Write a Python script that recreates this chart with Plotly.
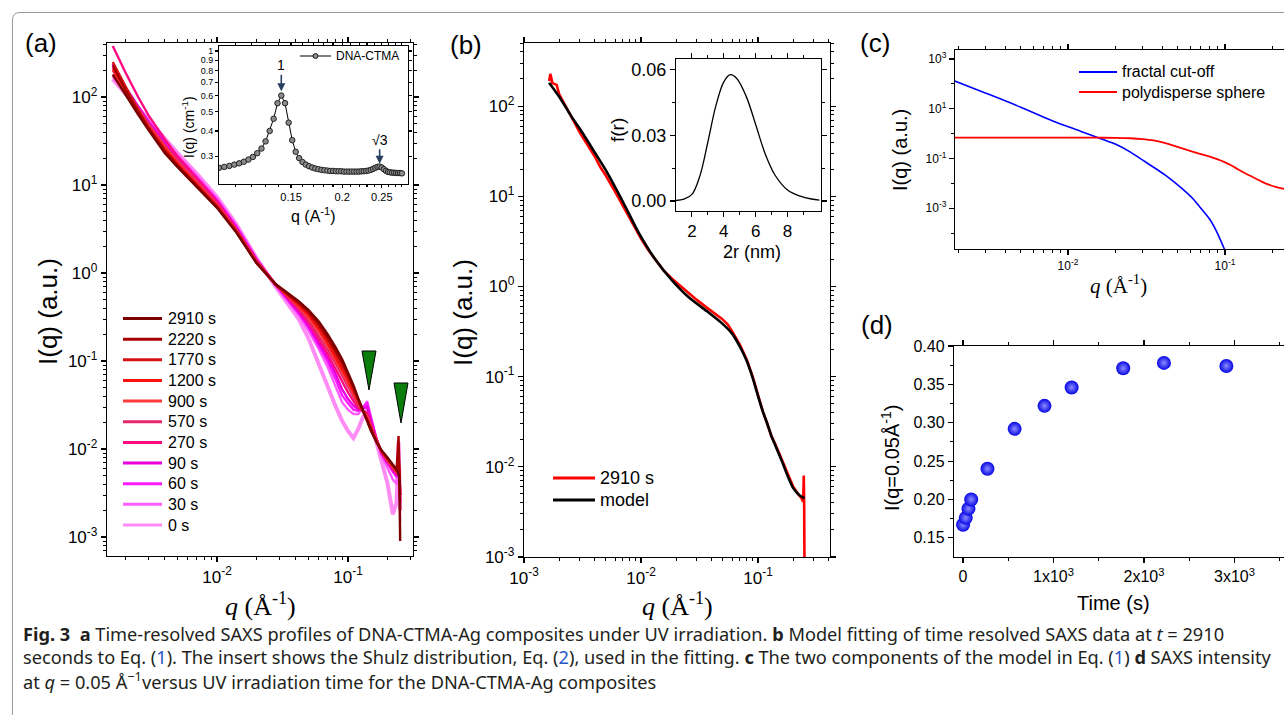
import numpy as np
import plotly.graph_objects as go

W, H = 1284, 715

# ---------------- data ----------------
# panel (a): time-resolved SAXS profiles
a_q = [0.0016, 0.002, 0.0025, 0.003, 0.004, 0.005, 0.007, 0.01, 0.014, 0.02,
       0.028, 0.035, 0.042, 0.05, 0.06, 0.07, 0.08, 0.09, 0.1, 0.11,
       0.12, 0.13, 0.14, 0.15, 0.165, 0.18, 0.2, 0.22, 0.235, 0.243,
       0.247, 0.25]
a_labels = ["2910 s", "2220 s", "1770 s", "1200 s", "900 s", "570 s",
            "270 s", "90 s", "60 s", "30 s", "0 s"]
i_2910 = [180, 105, 63, 42, 23, 16, 9.5, 5.5, 2.9, 1.3,
          0.75, 0.58, 0.48, 0.38, 0.28, 0.2, 0.145, 0.105, 0.075, 0.053,
          0.037, 0.027, 0.02, 0.016, 0.012, 0.0097, 0.008, 0.0067, 0.0058, 0.0052,
          0.0045, 0.0009]
i_2220 = [230, 120, 68, 44, 24, 16.5, 9.8, 5.6, 2.95, 1.3,
          0.74, 0.57, 0.46, 0.36, 0.26, 0.185, 0.133, 0.097, 0.07, 0.05,
          0.036, 0.027, 0.021, 0.016, 0.012, 0.0096, 0.0078, 0.0066, 0.0058, 0.014,
          0.006, 0.003]
i_1770 = [250, 130, 70, 45, 25, 17, 10, 5.7, 3.0, 1.32,
          0.74, 0.56, 0.45, 0.35, 0.245, 0.172, 0.123, 0.09, 0.066, 0.048,
          0.035, 0.027, 0.021, 0.016, 0.012, 0.0095, 0.0077, 0.0065, 0.0057, 0.009,
          0.005, 0.002]
i_1200 = [210, 125, 72, 46, 26, 17.5, 10.2, 5.8, 3.0, 1.33,
          0.74, 0.55, 0.43, 0.33, 0.23, 0.16, 0.113, 0.083, 0.061, 0.045,
          0.034, 0.027, 0.022, 0.017, 0.012, 0.0095, 0.0076, 0.0064, 0.0056, 0.007,
          0.0045, 0.0025]
i_900 = [180, 115, 70, 47, 27, 18, 10.5, 5.9, 3.05, 1.34,
         0.74, 0.54, 0.42, 0.31, 0.215, 0.15, 0.105, 0.076, 0.056, 0.042,
         0.033, 0.027, 0.023, 0.017, 0.0125, 0.0094, 0.0075, 0.0063, 0.0055, 0.0065,
         0.005, 0.003]
i_570 = [200, 125, 75, 50, 28, 19, 11, 6.1, 3.1, 1.36,
         0.74, 0.53, 0.4, 0.29, 0.195, 0.135, 0.095, 0.068, 0.051, 0.039,
         0.031, 0.027, 0.024, 0.018, 0.0125, 0.0093, 0.0074, 0.0062, 0.0054, 0.006,
         0.0048, 0.0035]
i_270 = [380, 190, 100, 62, 33, 21, 12, 6.5, 3.2, 1.4,
         0.75, 0.52, 0.38, 0.27, 0.175, 0.12, 0.082, 0.058, 0.044, 0.035,
         0.029, 0.027, 0.026, 0.019, 0.013, 0.0092, 0.0072, 0.006, 0.0052, 0.008,
         0.005, 0.003]
i_90 = [240, 130, 78, 52, 30, 20, 11.8, 6.6, 3.3, 1.42,
        0.74, 0.5, 0.36, 0.25, 0.16, 0.108, 0.072, 0.048, 0.037, 0.031,
        0.028, 0.029, 0.03, 0.021, 0.013, 0.009, 0.007, 0.0058, 0.005, 0.007,
        0.0045, 0.003]
i_60 = [220, 125, 78, 53, 31, 21, 12.2, 6.8, 3.4, 1.44,
        0.73, 0.49, 0.35, 0.24, 0.15, 0.098, 0.063, 0.041, 0.033, 0.028,
        0.027, 0.03, 0.033, 0.022, 0.013, 0.0088, 0.0068, 0.0055, 0.0048, 0.0065,
        0.004, 0.0025]
i_30 = [170, 115, 76, 53, 32, 22, 12.8, 7.0, 3.5, 1.46,
        0.72, 0.47, 0.33, 0.22, 0.135, 0.085, 0.053, 0.034, 0.028, 0.025,
        0.025, 0.03, 0.035, 0.023, 0.013, 0.0085, 0.006, 0.0045, 0.004, 0.008,
        0.003, 0.0015]
i_0 = [160, 110, 75, 54, 33, 23, 13.5, 7.3, 3.6, 1.48,
       0.7, 0.44, 0.3, 0.18, 0.09, 0.05, 0.031, 0.021, 0.016, 0.0133,
       0.017, 0.023, 0.028, 0.02, 0.0115, 0.007, 0.0041, 0.0018, 0.0025, 0.012,
       0.003, 0.002]
a_series = [i_2910, i_2220, i_1770, i_1200, i_900, i_570, i_270, i_90, i_60, i_30, i_0]

# inset of (a): DNA-CTMA
ins_q = [0.100, 0.103, 0.106, 0.109, 0.112, 0.115, 0.118, 0.121, 0.124, 0.127,
         0.130, 0.133, 0.136, 0.139, 0.142, 0.145, 0.148, 0.151, 0.154, 0.157,
         0.160, 0.163, 0.166, 0.169, 0.172, 0.175, 0.178, 0.181, 0.184, 0.187,
         0.190, 0.193, 0.196, 0.199, 0.202, 0.205, 0.208, 0.211, 0.214, 0.217,
         0.220, 0.223, 0.226, 0.229, 0.232, 0.235, 0.238, 0.241, 0.244, 0.247,
         0.250, 0.253, 0.256, 0.259, 0.262, 0.265, 0.268, 0.271, 0.274, 0.277,
         0.280]
ins_i = [0.262, 0.265, 0.268, 0.272, 0.276, 0.281, 0.288, 0.297, 0.310, 0.327,
         0.355, 0.400, 0.460, 0.550, 0.600, 0.550, 0.440, 0.360, 0.315, 0.293,
         0.280, 0.272, 0.267, 0.263, 0.260, 0.258, 0.256, 0.255, 0.254, 0.253,
         0.253, 0.252, 0.252, 0.252, 0.251, 0.251, 0.251, 0.251, 0.251, 0.251,
         0.251, 0.252, 0.252, 0.253, 0.254, 0.256, 0.259, 0.262, 0.265, 0.266,
         0.263, 0.258, 0.253, 0.250, 0.249, 0.248, 0.248, 0.247, 0.247, 0.247,
         0.246]

# panel (b): data at 2910 s and model
b_q_data = [0.00164, 0.00168, 0.00175, 0.0019, 0.002, 0.0023, 0.0026, 0.003, 0.0035, 0.004,
            0.0045, 0.005, 0.006, 0.007, 0.0085, 0.01, 0.0115, 0.0134, 0.0155, 0.0184,
            0.022, 0.0257, 0.03, 0.036, 0.042, 0.049, 0.055, 0.06, 0.07, 0.08,
            0.09, 0.1, 0.11, 0.12, 0.13, 0.14, 0.16, 0.18, 0.2, 0.22,
            0.235, 0.243, 0.246, 0.248, 0.25]
b_i_data = [190, 228, 180, 172, 135, 98, 72, 51, 37, 28,
            21.0, 17.0, 11.3, 7.8, 5.0, 3.4, 2.55, 1.95, 1.52, 1.22,
            1.0, 0.83, 0.71, 0.59, 0.51, 0.44, 0.38, 0.32, 0.225, 0.155,
            0.1, 0.062, 0.041, 0.03, 0.022, 0.018, 0.012, 0.008, 0.006, 0.005,
            0.0045, 0.0041, 0.008, 0.0035, 0.0004]
b_q_model = [0.00164, 0.002, 0.00257, 0.003, 0.004, 0.005, 0.007, 0.0096, 0.0134, 0.0184,
             0.0257, 0.036, 0.0492, 0.06, 0.07, 0.08, 0.09, 0.1, 0.11, 0.12,
             0.13, 0.14, 0.16, 0.18, 0.2, 0.22, 0.24, 0.25]
b_i_model = [182, 127, 75, 56, 31, 19.5, 8.7, 3.9, 1.95, 1.17,
             0.755, 0.54, 0.39, 0.3, 0.215, 0.15, 0.097, 0.061, 0.041, 0.03,
             0.022, 0.0175, 0.0115, 0.0078, 0.0058, 0.0050, 0.0046, 0.0045]

# inset of (b): Schulz distribution
schulz_2r = [1.0, 1.5, 2.0, 2.5, 3.0, 3.5, 4.0, 4.4, 4.8, 5.4, 6.0, 6.6, 7.2, 8.0, 8.8, 9.5, 10.0]
schulz_f = [0.0002, 0.0008, 0.0030, 0.0115, 0.027, 0.0435, 0.0545, 0.0578, 0.0562, 0.048,
            0.035, 0.0215, 0.012, 0.005, 0.0022, 0.0009, 0.0004]

# panel (c): model components
c_q_fractal = [0.0019, 0.003, 0.005, 0.008, 0.012, 0.0167, 0.02, 0.025, 0.0288, 0.035,
               0.0427, 0.054, 0.0625, 0.0693, 0.08, 0.0888, 0.098, 0.105]
c_i_fractal = [130, 42, 11.5, 3.2, 1.25, 0.58, 0.38, 0.18, 0.1, 0.045,
               0.019, 0.0057, 0.0024, 0.0011, 3.6e-4, 1.1e-4, 2.7e-5, 1e-5]
c_q_sphere = [0.0019, 0.005, 0.01, 0.015, 0.02, 0.025, 0.03, 0.035, 0.04, 0.047,
              0.054, 0.062, 0.07, 0.08, 0.09, 0.1, 0.11, 0.12, 0.135, 0.15,
              0.17, 0.19, 0.21, 0.23, 0.25]
c_i_sphere = [0.69, 0.69, 0.69, 0.685, 0.675, 0.65, 0.6, 0.53, 0.44, 0.33,
              0.25, 0.19, 0.15, 0.118, 0.092, 0.07, 0.052, 0.038, 0.025, 0.018,
              0.012, 0.0088, 0.0072, 0.0063, 0.0057]

# panel (d): intensity at q = 0.05 vs time
d_time = [0, 30, 60, 90, 270, 570, 900, 1200, 1770, 2220, 2910]
d_int = [0.167, 0.176, 0.188, 0.200, 0.240, 0.292, 0.322, 0.346, 0.371, 0.378, 0.374]

# ---------------- style ----------------
a_colors = ["#7a0000", "#a80000", "#d41414", "#ff1010", "#ff3c3c", "#e8286e",
            "#ff0a80", "#e800e0", "#ff1aff", "#ff5cff", "#ff8cf4"]
SANS = "Arial, Liberation Sans, sans-serif"
SERIF = "Times New Roman, Liberation Serif, serif"


def px(x):
    return x / W


def py(y):
    return 1 - y / H


def sup(e):
    return "10<sup>%d</sup>" % e


def minor_log(lo, hi):
    return [m * 10.0 ** e for e in range(lo, hi) for m in range(2, 10)]


AX = dict(showline=True, linecolor="black", linewidth=1.2, mirror="ticks",
          ticks="outside", tickcolor="black", tickwidth=1.1, ticklen=5,
          showgrid=False, zeroline=False, automargin=False)

fig = go.Figure()

# (a) curves, draw early times first so the dark curves are on top
for lab, ser, col in reversed(list(zip(a_labels, a_series, a_colors))):
    fig.add_trace(go.Scatter(x=a_q, y=ser, mode="lines", name=lab,
                             line=dict(color=col, width=4.0 if lab == "0 s" else 2.4),
                             xaxis="x", yaxis="y", showlegend=False))

# (a) inset
fig.add_trace(go.Scatter(x=ins_q, y=ins_i, mode="lines+markers", name="DNA-CTMA",
                         line=dict(color="black", width=1),
                         marker=dict(symbol="circle", size=5.5, color="#8a8a8a",
                                     line=dict(color="#222", width=1)),
                         xaxis="x2", yaxis="y2", showlegend=False))

# (b)
fig.add_trace(go.Scatter(x=b_q_data, y=b_i_data, mode="lines", name="2910 s",
                         line=dict(color="#ff0000", width=2.6),
                         xaxis="x3", yaxis="y3", showlegend=False))
fig.add_trace(go.Scatter(x=b_q_model, y=b_i_model, mode="lines", name="model",
                         line=dict(color="black", width=2.6, shape="spline", smoothing=0.6),
                         xaxis="x3", yaxis="y3", showlegend=False))
fig.add_trace(go.Scatter(x=schulz_2r, y=schulz_f, mode="lines", name="f(r)",
                         line=dict(color="black", width=1.3, shape="spline", smoothing=1.0),
                         xaxis="x4", yaxis="y4", showlegend=False))

# (c)
fig.add_trace(go.Scatter(x=c_q_fractal, y=c_i_fractal, mode="lines", name="fractal cut-off",
                         line=dict(color="#0000ff", width=1.6, shape="spline", smoothing=0.8),
                         xaxis="x5", yaxis="y5", showlegend=False))
fig.add_trace(go.Scatter(x=c_q_sphere, y=c_i_sphere, mode="lines", name="polydisperse sphere",
                         line=dict(color="#ff0000", width=1.8, shape="spline", smoothing=0.5),
                         xaxis="x5", yaxis="y5", showlegend=False))

# (d)
fig.add_trace(go.Scatter(x=d_time, y=d_int, mode="markers", name="I(q=0.05)",
                         marker=dict(size=14, color="#0606e6",
                                     gradient=dict(type="radial", color="#8c8cff"),
                                     line=dict(width=0)),
                         xaxis="x6", yaxis="y6", showlegend=False))

tf_big = dict(family=SANS, size=17, color="black")

layout = dict(
    width=W, height=H, margin=dict(l=0, r=0, t=0, b=0, autoexpand=False),
    paper_bgcolor="white", plot_bgcolor="rgba(0,0,0,0)", showlegend=False,
    # (a)
    xaxis=dict(AX, type="log", domain=[px(107), px(413)], range=[-2.840, -0.504], anchor="y",
               tickvals=[0.01, 0.1], ticktext=[sup(-2), sup(-1)], tickfont=tf_big,
               minor=dict(tickvals=minor_log(-3, 0), ticks="outside", ticklen=3,
                          tickcolor="black", tickwidth=1)),
    yaxis=dict(AX, type="log", domain=[py(556), py(43)], range=[-3.216, 2.614], anchor="x",
               tickvals=[1e-3, 1e-2, 1e-1, 1, 10, 100],
               ticktext=[sup(e) for e in range(-3, 3)], tickfont=tf_big,
               minor=dict(tickvals=minor_log(-4, 3), ticks="outside", ticklen=3,
                          tickcolor="black", tickwidth=1)),
    # (a) inset
    xaxis2=dict(AX, type="log", domain=[px(219), px(408)], range=[-1.0, -0.538], anchor="y2",
                linewidth=1, ticklen=3,
                tickvals=[0.15, 0.2, 0.25], ticktext=["0.15", "0.2", "0.25"],
                tickfont=dict(family=SANS, size=11, color="black"),
                minor=dict(tickvals=[0.11, 0.12, 0.13, 0.14, 0.16, 0.17, 0.18, 0.19,
                                     0.21, 0.22, 0.23, 0.24, 0.26, 0.27, 0.28],
                           ticks="outside", ticklen=2, tickcolor="black")),
    yaxis2=dict(AX, type="log", domain=[py(184), py(46)], range=[-0.662, 0.025], anchor="x2",
                linewidth=1, ticklen=3,
                tickvals=[0.3, 0.4, 0.5, 0.6, 0.7, 0.8, 0.9, 1.0],
                ticktext=["0.3", "0.4", "0.5", "0.6", "0.7", "0.8", "0.9", "1"],
                tickfont=dict(family=SANS, size=9, color="black")),
    # (b)
    xaxis3=dict(AX, type="log", domain=[px(524), px(830)], range=[-3.0, -0.385], anchor="y3",
                tickvals=[1e-3, 1e-2, 1e-1], ticktext=[sup(-3), sup(-2), sup(-1)], tickfont=tf_big,
                minor=dict(tickvals=minor_log(-3, 0), ticks="outside", ticklen=3,
                           tickcolor="black", tickwidth=1)),
    yaxis3=dict(AX, type="log", domain=[py(557), py(43)], range=[-3.0, 2.7], anchor="x3",
                tickvals=[1e-3, 1e-2, 1e-1, 1, 10, 100],
                ticktext=[sup(e) for e in range(-3, 3)], tickfont=tf_big,
                minor=dict(tickvals=minor_log(-3, 3), ticks="outside", ticklen=3,
                           tickcolor="black", tickwidth=1)),
    # (b) inset
    xaxis4=dict(AX, domain=[px(676), px(821)], range=[1.0, 10.1], anchor="y4",
                linewidth=1, tickvals=[2, 4, 6, 8], ticktext=["2", "4", "6", "8"],
                tickfont=dict(family=SANS, size=17, color="black"),
                minor=dict(tickvals=[3, 5, 7, 9], ticks="outside", ticklen=3, tickcolor="black")),
    yaxis4=dict(AX, domain=[py(211), py(59)], range=[-0.0046, 0.065], anchor="x4",
                linewidth=1, tickvals=[0.0, 0.03, 0.06], ticktext=["0.00", "0.03", "0.06"],
                tickfont=dict(family=SANS, size=18, color="black"),
                minor=dict(tickvals=[0.015, 0.045], ticks="outside", ticklen=3, tickcolor="black")),
    # (c)
    xaxis5=dict(AX, type="log", domain=[px(955), 1.0], range=[-2.72, -0.624], anchor="y5",
                tickvals=[0.01, 0.1], ticktext=[sup(-2), sup(-1)],
                tickfont=dict(family=SANS, size=12, color="black"),
                minor=dict(tickvals=minor_log(-3, 0), ticks="outside", ticklen=3, tickcolor="black")),
    yaxis5=dict(AX, type="log", domain=[py(249), py(50)], range=[-4.64, 3.36], anchor="x5",
                mirror=False,
                tickvals=[1e-3, 1e-1, 10, 1000], ticktext=[sup(-3), sup(-1), sup(1), sup(3)],
                tickfont=dict(family=SANS, size=12, color="black"),
                minor=dict(tickvals=[1e-4, 1e-2, 1, 100], ticks="outside", ticklen=3,
                           tickcolor="black")),
    # (d)
    xaxis6=dict(AX, domain=[px(954), 1.0], range=[-100, 3547], anchor="y6",
                tickvals=[0, 1000, 2000, 3000],
                ticktext=["0", "1x10<sup>3</sup>", "2x10<sup>3</sup>", "3x10<sup>3</sup>"],
                tickfont=dict(family=SANS, size=16, color="black"),
                minor=dict(tickvals=[500, 1500, 2500, 3500], ticks="outside", ticklen=3,
                           tickcolor="black")),
    yaxis6=dict(AX, domain=[py(557), py(346)], range=[0.125, 0.40], anchor="x6", mirror=False,
                tickvals=[0.15, 0.2, 0.25, 0.3, 0.35, 0.4],
                ticktext=["0.15", "0.20", "0.25", "0.30", "0.35", "0.40"],
                tickfont=dict(family=SANS, size=16, color="black"),
                minor=dict(tickvals=[0.175, 0.225, 0.275, 0.325, 0.375], ticks="outside",
                           ticklen=3, tickcolor="black")),
)
fig.update_layout(**layout)

ann = []
shapes = []


def text(x, y, s, size, family=SANS, angle=0, xanchor="center", color="black"):
    ann.append(dict(x=px(x), y=py(y), xref="paper", yref="paper", text=s, showarrow=False,
                    textangle=angle, xanchor=xanchor, yanchor="middle", borderpad=0,
                    font=dict(family=family, size=size, color=color)))


def seg(x0, y0, x1, y1, color, width):
    shapes.append(dict(type="line", xref="paper", yref="paper", x0=px(x0), y0=py(y0),
                       x1=px(x1), y1=py(y1), line=dict(color=color, width=width)))


# panel labels
text(41, 43, "(a)", 26)
text(466, 45, "(b)", 26)
text(875, 43, "(c)", 26)
text(877, 325, "(d)", 26)

# axis titles
text(48, 311, "I(q) (a.u.)", 26, angle=-90)
text(260, 604, "<i>q</i> (Å<sup>-1</sup>)", 26, family=SERIF)
text(463, 313, "I(q) (a.u.)", 26, angle=-90)
text(677, 604, "<i>q</i> (Å<sup>-1</sup>)", 26, family=SERIF)
text(900, 150, "I(q) (a.u.)", 20, angle=-90)
text(1118, 285, "<i>q</i> (Å<sup>-1</sup>)", 21, family=SERIF)
text(890, 458, "I(q=0.05Å<sup>-1</sup>)", 20, angle=-90)
text(1113, 603, "Time (s)", 20)

# inset titles
text(188, 127, "I(q) (cm<sup>-1</sup>)", 14, angle=-90)
text(313, 215, "q (A<sup>-1</sup>)", 16)
text(617, 130, "f(r)", 19, angle=-90)
text(752, 252, "2r (nm)", 18)

# legend (a)
for k, (lab, col) in enumerate(zip(a_labels, a_colors)):
    yy = 318.5 + 20.65 * k
    seg(123, yy, 162, yy, col, 3)
    text(167, yy, lab, 16, xanchor="left")

# legend (b)
seg(553, 478, 595, 478, "#ff0000", 3)
text(599, 478, "2910 s", 18, xanchor="left")
seg(553, 500, 595, 500, "black", 3)
text(599, 500, "model", 18, xanchor="left")

# legend (c)
seg(1079, 72, 1117, 72, "#0000ff", 1.8)
text(1121, 72, "fractal cut-off", 16, xanchor="left")
seg(1079, 92, 1117, 92, "#ff0000", 1.8)
text(1121, 92, "polydisperse sphere", 16, xanchor="left")

# legend of (a) inset
seg(300, 56, 331, 56, "black", 1)
shapes.append(dict(type="circle", xref="paper", yref="paper", x0=px(313), x1=px(318),
                   y0=py(58.5), y1=py(53.5), fillcolor="#8a8a8a", line=dict(color="#222", width=1)))
text(335, 56, "DNA-CTMA", 12, xanchor="left")

# arrows in (a) inset
ann.append(dict(x=np.log10(0.142), y=np.log10(0.63), xref="x2", yref="y2", text="1",
                showarrow=True, arrowhead=2, arrowsize=1, arrowwidth=1.6, ax=0, ay=-26,
                font=dict(family=SANS, size=14, color="black")))
ann.append(dict(x=np.log10(0.247), y=np.log10(0.275), xref="x2", yref="y2", text="√3",
                showarrow=True, arrowhead=2, arrowsize=1, arrowwidth=1.6, ax=0, ay=-24,
                font=dict(family=SANS, size=14, color="black")))

# green triangles in (a)
for (xl, xr, yt, yb) in [(362, 376, 351, 390), (394, 408, 383, 423)]:
    xc = (xl + xr) / 2
    shapes.append(dict(type="path", xref="paper", yref="paper",
                       path="M %f,%f L %f,%f L %f,%f Z" % (px(xl), py(yt), px(xr), py(yt), px(xc), py(yb)),
                       fillcolor="#0b7d0b", line=dict(color="black", width=1)))

# figure frame
shapes.append(dict(type="path", xref="paper", yref="paper",
                   path="M %f,%f L %f,%f Q %f,%f %f,%f L %f,%f" % (
                       px(12.5), py(715), px(12.5), py(20), px(12.5), py(12.5), px(20), py(12.5),
                       px(1284), py(12.5)),
                   line=dict(color="#9a9a9a", width=1)))

# caption
CAP = "Noto Sans, Open Sans, sans-serif"
link = "<span style='color:#2b57c7'>%s</span>"
cap1 = ("<b>Fig. 3</b>  <b>a</b> Time-resolved SAXS profiles of DNA-CTMA-Ag composites under UV "
        "irradiation. <b>b</b> Model fitting of time resolved SAXS data at <i>t</i> = 2910")
cap2 = ("seconds to Eq. (" + link % "1" + "). The insert shows the Shulz distribution, Eq. ("
        + link % "2" + "), used in the fitting. <b>c</b> The two components of the model in Eq. ("
        + link % "1" + ") <b>d</b> SAXS intensity")
cap3 = "at <i>q</i> = 0.05 Å<sup>−1</sup>versus UV irradiation time for the DNA-CTMA-Ag composites"
for yy, s in [(634, cap1), (657, cap2), (680, cap3)]:
    text(22, yy, s, 18.2, family=CAP, xanchor="left", color="#231f20")

fig.update_layout(annotations=ann, shapes=shapes)
fig.write_html("out.html", config={"displayModeBar": False, "staticPlot": True},
               post_script="document.body.style.margin='0px';document.body.style.padding='0px';"
                           "document.body.style.overflow='hidden';")
